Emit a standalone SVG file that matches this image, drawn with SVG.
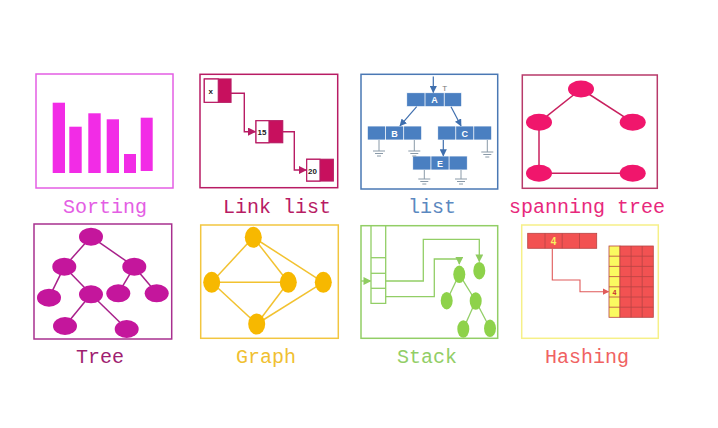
<svg xmlns="http://www.w3.org/2000/svg" width="718" height="428" viewBox="0 0 718 428">
<style>
.lbl{font-family:"Liberation Mono","Courier New",monospace;font-size:20px;text-anchor:middle}
.box{fill:none;stroke-width:1.5}
</style>
<defs>
<marker id="aLink" viewBox="0 0 10 10" refX="9" refY="5" markerWidth="6" markerHeight="6" orient="auto"><path d="M0,0 L10,5 L0,10 z" fill="#b81c64"/></marker>
<marker id="aList" viewBox="0 0 10 10" refX="9" refY="5" markerWidth="6" markerHeight="6" orient="auto"><path d="M0,0 L10,5 L0,10 z" fill="#3f6fae"/></marker>
<marker id="aStack" viewBox="0 0 10 10" refX="9" refY="5" markerWidth="6" markerHeight="6" orient="auto"><path d="M0,0 L10,5 L0,10 z" fill="#8fcc60"/></marker>
<marker id="aHash" viewBox="0 0 10 10" refX="9" refY="5" markerWidth="6" markerHeight="6" orient="auto"><path d="M0,0 L10,5 L0,10 z" fill="#e05a5a"/></marker>
</defs>
<rect width="718" height="428" fill="#ffffff"/>

<g id="sorting">
<rect class="box" x="36" y="74" width="137" height="114" stroke="#e45ee4"/>
<g fill="#f22ce6">
<rect x="52.7" y="102.7" width="12.3" height="70.3"/>
<rect x="69.3" y="126.7" width="12.4" height="46.3"/>
<rect x="88.3" y="113.3" width="12.4" height="59.7"/>
<rect x="106.7" y="119.3" width="12.3" height="53.7"/>
<rect x="124" y="154" width="12" height="19"/>
<rect x="140.7" y="117.7" width="12" height="53.3"/>
</g>
<text class="lbl" x="105" y="213" fill="#e45ee4">Sorting</text>
</g>

<g id="linklist">
<rect class="box" x="200" y="74.3" width="137.7" height="113.4" stroke="#b81c64"/>
<g stroke="#b81c64" stroke-width="1.2">
<rect x="204.3" y="79" width="26.7" height="23.3" fill="#c8105e"/>
<rect x="204.3" y="79" width="14" height="23.3" fill="#ffffff"/>
<rect x="256" y="120.7" width="26.7" height="22" fill="#c8105e"/>
<rect x="256" y="120.7" width="13" height="22" fill="#ffffff"/>
<rect x="306.7" y="159.3" width="26.6" height="21.7" fill="#c8105e"/>
<rect x="306.7" y="159.3" width="13.3" height="21.7" fill="#ffffff"/>
</g>
<g font-family="Liberation Sans,Arial,sans-serif" font-size="8" font-weight="bold" fill="#222">
<text x="208.5" y="94">x</text>
<text x="257.5" y="135">15</text>
<text x="308" y="174">20</text>
</g>
<g stroke="#b81c64" stroke-width="1.4" fill="none" marker-end="url(#aLink)">
<path d="M231,93.3 H244.3 V131.7 H255.5"/>
<path d="M282.7,131.7 H294.3 V170 H306.2"/>
</g>
<text class="lbl" x="277" y="213" fill="#b81c64">Link list</text>
</g>

<g id="list">
<rect class="box" x="361" y="74.3" width="136.7" height="114.7" stroke="#4a78b4"/>
<g fill="#4a7fc1" stroke="#ffffff" stroke-width="0.8">
<rect x="406.7" y="92.7" width="55" height="14"/>
<line x1="425" y1="92.7" x2="425" y2="106.7"/><line x1="444.3" y1="92.7" x2="444.3" y2="106.7"/>
<rect x="367.3" y="126" width="54.4" height="14"/>
<line x1="385.5" y1="126" x2="385.5" y2="140"/><line x1="403.6" y1="126" x2="403.6" y2="140"/>
<rect x="437.7" y="126" width="54" height="14"/>
<line x1="455.7" y1="126" x2="455.7" y2="140"/><line x1="473.7" y1="126" x2="473.7" y2="140"/>
<rect x="412.7" y="156" width="54.6" height="14"/>
<line x1="430.9" y1="156" x2="430.9" y2="170"/><line x1="449.1" y1="156" x2="449.1" y2="170"/>
</g>
<g font-family="Liberation Sans,Arial,sans-serif" font-size="9" font-weight="bold" fill="#ffffff" text-anchor="middle">
<text x="434.6" y="103">A</text>
<text x="394.5" y="136.5">B</text>
<text x="464.7" y="136.5">C</text>
<text x="440" y="166.5">E</text>
</g>
<text x="442.3" y="91" font-family="Liberation Sans,Arial,sans-serif" font-size="8" fill="#777">T</text>
<g stroke="#3f6fae" stroke-width="1.2" fill="none" marker-end="url(#aList)">
<line x1="433.3" y1="76.5" x2="433.3" y2="92.5"/>
<line x1="416.7" y1="106.7" x2="400" y2="125.8"/>
<line x1="451" y1="106.7" x2="461" y2="125.8"/>
<line x1="443.3" y1="140" x2="443.3" y2="155.8"/>
</g>
<g stroke="#8a9aa8" stroke-width="1" fill="none">
<path d="M379,140 V151 M373,151 H385 M375,153.5 H383 M377,156 H381"/>
<path d="M414.3,140 V151 M408.3,151 H420.3 M410.3,153.5 H418.3 M412.3,156 H416.3"/>
<path d="M487.3,140 V152 M481.3,152 H493.3 M483.3,154.5 H491.3 M485.3,157 H489.3"/>
<path d="M424.3,170 V179 M418.3,179 H430.3 M420.3,181.5 H428.3 M422.3,184 H426.3"/>
<path d="M461,170 V179 M455,179 H467 M457,181.5 H465 M459,184 H463"/>
</g>
<text class="lbl" x="432" y="213" fill="#5b88c0">list</text>
</g>

<g id="spanning">
<rect class="box" x="522.3" y="75" width="135" height="113.3" stroke="#b83a6a"/>
<g stroke="#c8205e" stroke-width="1.5">
<line x1="581" y1="89" x2="539" y2="122.3"/>
<line x1="581" y1="89" x2="632.7" y2="122.3"/>
<line x1="539" y1="122.3" x2="539" y2="173.3"/>
<line x1="539" y1="173.3" x2="632.7" y2="173.3"/>
</g>
<g fill="#f0166c">
<ellipse cx="581" cy="89" rx="13" ry="8.5"/>
<ellipse cx="539" cy="122.3" rx="13" ry="8.5"/>
<ellipse cx="632.7" cy="122.3" rx="13" ry="8.5"/>
<ellipse cx="539" cy="173.3" rx="13" ry="8.5"/>
<ellipse cx="632.7" cy="173.3" rx="13" ry="8.5"/>
</g>
<text class="lbl" x="587" y="213" fill="#e8287c">spanning tree</text>
</g>

<g id="tree">
<rect class="box" x="34" y="224" width="137.7" height="115" stroke="#a8308f"/>
<g stroke="#a8208a" stroke-width="1.5">
<line x1="91" y1="236.7" x2="64.3" y2="266.7"/>
<line x1="91" y1="236.7" x2="134.3" y2="266.7"/>
<line x1="64.3" y1="266.7" x2="49" y2="297.7"/>
<line x1="64.3" y1="266.7" x2="91" y2="294.3"/>
<line x1="91" y1="294.3" x2="65" y2="326"/>
<line x1="91" y1="294.3" x2="126.7" y2="329"/>
<line x1="134.3" y1="266.7" x2="118.3" y2="293.3"/>
<line x1="134.3" y1="266.7" x2="156.7" y2="293.3"/>
</g>
<g fill="#c4169c">
<ellipse cx="91" cy="236.7" rx="12" ry="9"/>
<ellipse cx="64.3" cy="266.7" rx="12" ry="9"/>
<ellipse cx="134.3" cy="266.7" rx="12" ry="9"/>
<ellipse cx="49" cy="297.7" rx="12" ry="9"/>
<ellipse cx="91" cy="294.3" rx="12" ry="9"/>
<ellipse cx="118.3" cy="293.3" rx="12" ry="9"/>
<ellipse cx="156.7" cy="293.3" rx="12" ry="9"/>
<ellipse cx="65" cy="326" rx="12" ry="9"/>
<ellipse cx="126.7" cy="329" rx="12" ry="9"/>
</g>
<text class="lbl" x="100" y="363" fill="#a01e70">Tree</text>
</g>

<g id="graph">
<rect class="box" x="200.7" y="225" width="137.6" height="113.3" stroke="#f2c640"/>
<g stroke="#f2c230" stroke-width="1.5">
<line x1="253.3" y1="237.3" x2="211.7" y2="282.3"/>
<line x1="253.3" y1="237.3" x2="288.3" y2="282.3"/>
<line x1="253.3" y1="237.3" x2="323.3" y2="282.3"/>
<line x1="211.7" y1="282.3" x2="288.3" y2="282.3"/>
<line x1="211.7" y1="282.3" x2="256.7" y2="324"/>
<line x1="288.3" y1="282.3" x2="256.7" y2="324"/>
<line x1="323.3" y1="282.3" x2="256.7" y2="324"/>
</g>
<g fill="#f7b800">
<ellipse cx="253.3" cy="237.3" rx="8.5" ry="10.5"/>
<ellipse cx="211.7" cy="282.3" rx="8.5" ry="10.5"/>
<ellipse cx="288.3" cy="282.3" rx="8.5" ry="10.5"/>
<ellipse cx="323.3" cy="282.3" rx="8.5" ry="10.5"/>
<ellipse cx="256.7" cy="324" rx="8.5" ry="10.5"/>
</g>
<text class="lbl" x="266" y="363" fill="#f0c030">Graph</text>
</g>

<g id="stack">
<rect class="box" x="361" y="225.7" width="136.7" height="112.6" stroke="#92ce66"/>
<g stroke="#92ce66" stroke-width="1.3" fill="none">
<path d="M371,225.7 V303.3 H385.7 V225.7"/>
<line x1="371" y1="257.7" x2="385.7" y2="257.7"/>
<line x1="371" y1="273.3" x2="385.7" y2="273.3"/>
<line x1="371" y1="288.3" x2="385.7" y2="288.3"/>
<line x1="361" y1="281" x2="370.5" y2="281" marker-end="url(#aStack)"/>
<path d="M385.7,281 H423.3 V239.3 H479.3 V261.5" marker-end="url(#aStack)"/>
<path d="M385.7,296.7 H434.3 V259 H459.3 V264" marker-end="url(#aStack)"/>
<line x1="459.3" y1="274.3" x2="446.7" y2="300.7"/>
<line x1="459.3" y1="274.3" x2="475.7" y2="301"/>
<line x1="475.7" y1="301" x2="463.3" y2="329"/>
<line x1="475.7" y1="301" x2="490" y2="328.3"/>
</g>
<g fill="#8ed24a">
<ellipse cx="459.3" cy="274.3" rx="6" ry="8.7"/>
<ellipse cx="479.3" cy="270.7" rx="6" ry="8.7"/>
<ellipse cx="446.7" cy="300.7" rx="6" ry="8.7"/>
<ellipse cx="475.7" cy="301" rx="6" ry="8.7"/>
<ellipse cx="463.3" cy="329" rx="6" ry="8.7"/>
<ellipse cx="490" cy="328.3" rx="6" ry="8.7"/>
</g>
<text class="lbl" x="427" y="363" fill="#92ce66">Stack</text>
</g>

<g id="hashing">
<rect class="box" x="521.7" y="225" width="136.6" height="113.3" stroke="#f6f088"/>
<g stroke="#b84444" stroke-width="0.8" fill="#f25252">
<rect x="527.7" y="233.3" width="69" height="15"/>
<line x1="545" y1="233.3" x2="545" y2="248.3"/>
<line x1="562.2" y1="233.3" x2="562.2" y2="248.3"/>
<line x1="579.5" y1="233.3" x2="579.5" y2="248.3"/>
<rect x="609" y="246" width="11" height="71.3" fill="#fafa60"/>
<rect x="620" y="246" width="33.3" height="71.3"/>
<path d="M631.1,246 V317.3 M642.2,246 V317.3 M609,256.2 H653.3 M609,266.4 H653.3 M609,276.6 H653.3 M609,286.8 H653.3 M609,297 H653.3 M609,307.2 H653.3"/>
</g>
<text x="553.6" y="245" font-family="Liberation Sans,Arial,sans-serif" font-size="10" font-weight="bold" fill="#f8f060" text-anchor="middle">4</text>
<text x="614.5" y="295" font-family="Liberation Sans,Arial,sans-serif" font-size="7" font-weight="bold" fill="#c83030" text-anchor="middle">4</text>
<path d="M552.3,248.3 V280 H580 V291.7 H608.5" stroke="#e05a5a" stroke-width="1.1" fill="none" marker-end="url(#aHash)"/>
<text class="lbl" x="587" y="363" fill="#f06262">Hashing</text>
</g>
</svg>
